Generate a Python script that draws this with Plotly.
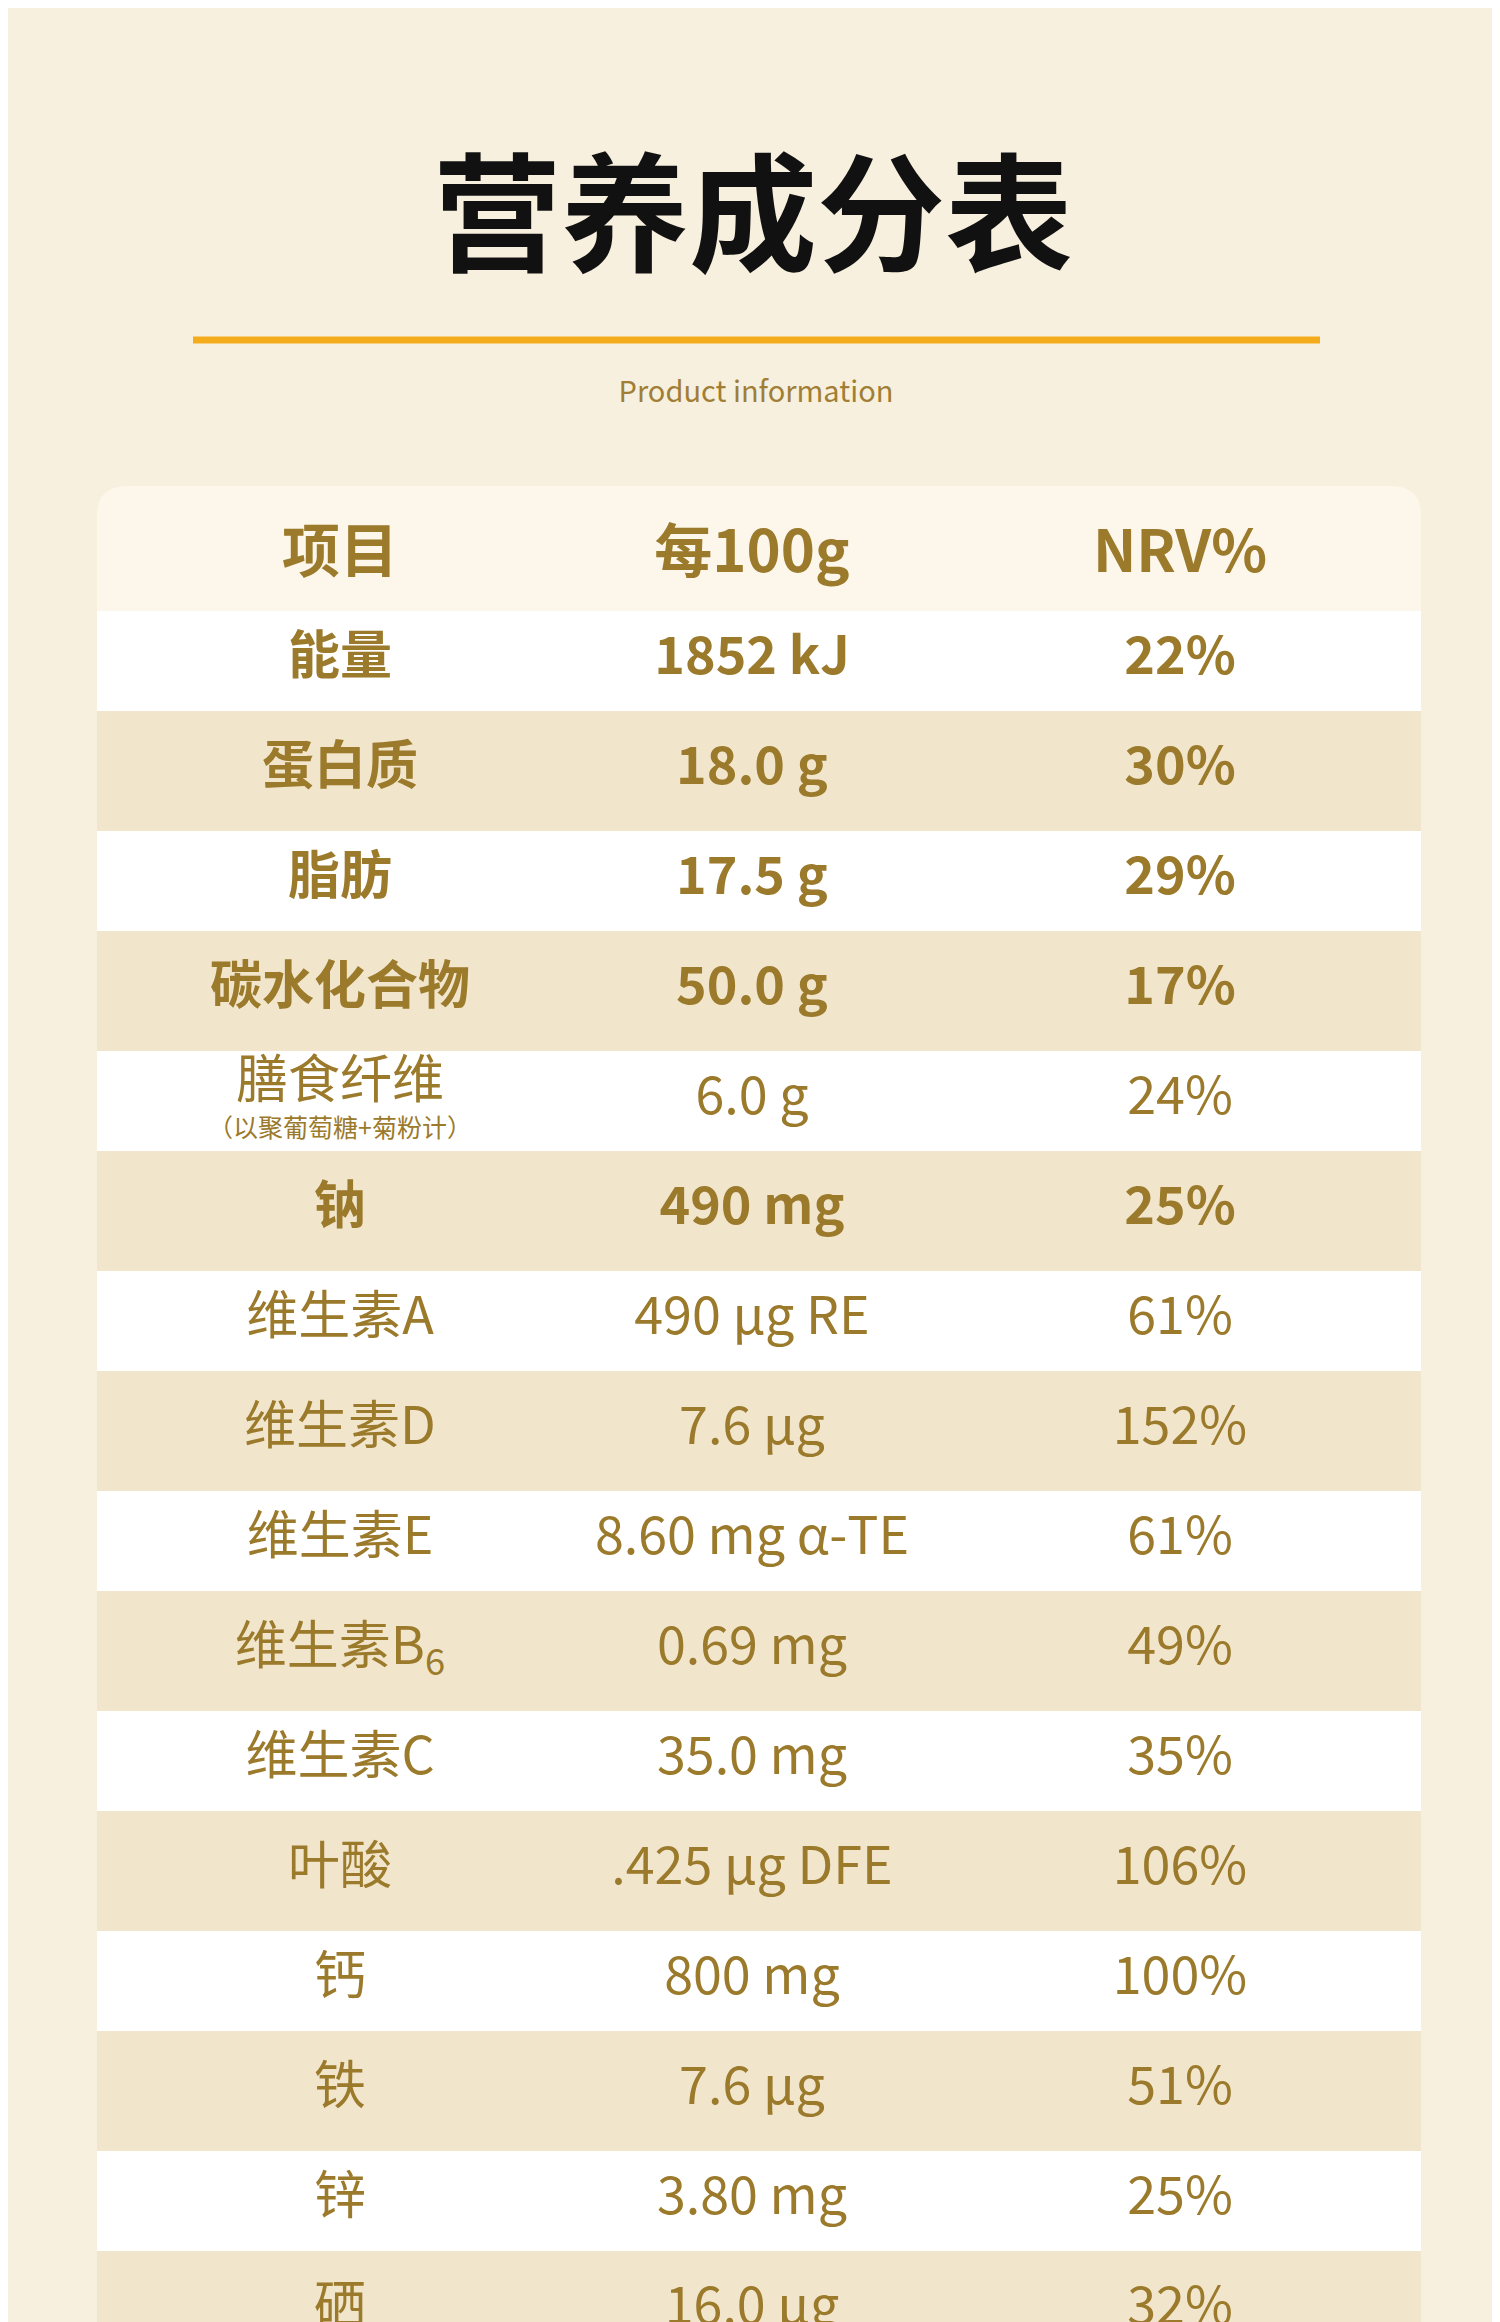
import plotly.graph_objects as go

headers = ["项目", "每100g", "NRV%"]
items = ["能量", "蛋白质", "脂肪", "碳水化合物", "膳食纤维",
         "钠", "维生素A", "维生素D", "维生素E", "维生素B<sub>6</sub>", "维生素C",
         "叶酸", "钙", "铁", "锌", "硒"]
fiber_note = "（以聚葡萄糖+菊粉计）"
per100g = ["1852 kJ", "18.0 g", "17.5 g", "50.0 g", "6.0 g", "490 mg", "490 μg RE",
           "7.6 μg", "8.60 mg α-TE", "0.69 mg", "35.0 mg", ".425 μg DFE", "800 mg",
           "7.6 μg", "3.80 mg", "16.0 μg"]
nrv = ["22%", "30%", "29%", "17%", "24%", "25%", "61%", "152%", "61%", "49%",
       "35%", "106%", "100%", "51%", "25%", "32%"]
bold_rows = [0, 1, 2, 3, 5]
FIBER = 4

W, H = 1500, 2322
COLX = [332, 744, 1172]
ROW0, STEP = 653, 110
GOLD = "#9b7a2c"
FONT = "Noto Sans CJK SC"

fig = go.Figure()
shapes = []
shapes.append(dict(type="rect", xref="x", yref="y", x0=0, x1=W, y0=0, y1=H,
                   fillcolor="#f8f0de", line_width=0, layer="below"))
shapes.append(dict(type="path", xref="x", yref="y", layer="below", line_width=0,
                   fillcolor="#fcf7ea",
                   path="M 89 2342 L 89 508 Q 89 478 119 478 L 1383 478 Q 1413 478 1413 508 L 1413 2342 Z"))
shapes.append(dict(type="line", xref="x", yref="y", x0=185, x1=1312, y0=332, y1=332,
                   line=dict(color="#f4ab1c", width=7)))
for i in range(len(items)):
    c = ROW0 + i * STEP
    if i % 2 == 0:
        y0, y1, col = c - 50, c + 50, "#ffffff"
    else:
        y0, y1, col = c - 60, c + 60, "#f1e6cc"
    shapes.append(dict(type="rect", xref="x", yref="y", x0=89, x1=1413, y0=y0, y1=y1,
                       fillcolor=col, line_width=0, layer="below"))

fig.add_trace(go.Scatter(x=[745], y=[222], mode="text", text=["<b>营养成分表</b>"],
                         textfont=dict(family=FONT, size=128, color="#111111"),
                         hoverinfo="skip"))
fig.add_trace(go.Scatter(x=[748], y=[387], mode="text", text=["Product information"],
                         textfont=dict(family=FONT, size=29, color="#a07e35"),
                         hoverinfo="skip"))
fig.add_trace(go.Scatter(x=COLX, y=[549] * 3, mode="text",
                         text=[f"<b>{h}</b>" for h in headers],
                         textfont=dict(family=FONT, size=58, color=GOLD), hoverinfo="skip"))
for j, col in enumerate([items, per100g, nrv]):
    bx, by, bt, lx, ly, lt = [], [], [], [], [], []
    for i, t in enumerate(col):
        y = ROW0 + i * STEP
        if j == 0 and i == FIBER:
            y -= 16
        if i in bold_rows:
            bx.append(COLX[j]); by.append(y); bt.append(f"<b>{t}</b>")
        else:
            lx.append(COLX[j]); ly.append(y); lt.append(t)
    fig.add_trace(go.Scatter(x=bx, y=by, mode="text", text=bt,
                             textfont=dict(family=FONT, size=52, color=GOLD), hoverinfo="skip"))
    fig.add_trace(go.Scatter(x=lx, y=ly, mode="text", text=lt,
                             textfont=dict(family=FONT, size=52, color=GOLD), hoverinfo="skip"))
fig.add_trace(go.Scatter(x=[COLX[0]], y=[ROW0 + FIBER * STEP + 30], mode="text",
                         text=[fiber_note],
                         textfont=dict(family=FONT, size=25, color=GOLD), hoverinfo="skip"))

fig.update_layout(width=W, height=H, margin=dict(l=0, r=0, t=0, b=0),
                  showlegend=False, shapes=shapes,
                  paper_bgcolor="#f8f0de", plot_bgcolor="#f8f0de",
                  xaxis=dict(range=[0, W], visible=False, fixedrange=True),
                  yaxis=dict(range=[H, 0], visible=False, fixedrange=True))
fig.write_html("out.html")
